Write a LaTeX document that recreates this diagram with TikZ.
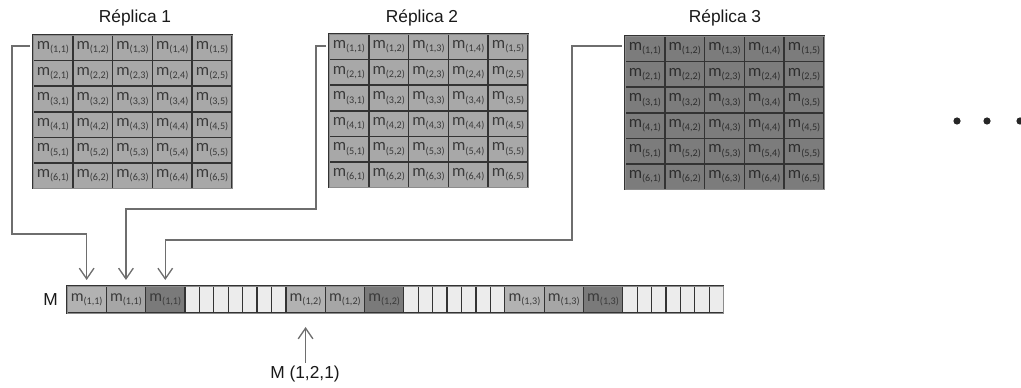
\documentclass[tikz,border=0pt]{standalone}
\usepackage{fontspec}
\setmainfont{Liberation Sans}
\newfontfamily\cellfont{Carlito}
\usetikzlibrary{arrows.meta,calc}
\definecolor{gridfill}{HTML}{A8A8A8}
\definecolor{gridfillD}{HTML}{7C7C7C}
\definecolor{cellline}{HTML}{333333}
\definecolor{celltext}{HTML}{3A3A3A}
\definecolor{rimc}{HTML}{8C8C8C}
\definecolor{arrA}{HTML}{B2B2B2}
\definecolor{arrB}{HTML}{A6A6A6}
\definecolor{arrC}{HTML}{7A7A7A}
\definecolor{arrE}{HTML}{ECECEC}
\definecolor{connc}{HTML}{6E6E6E}
\newcommand{\mcell}[1]{{\fontsize{12.5}{12.5}\selectfont m}\raisebox{-2.5pt}{\fontsize{7.6}{7.6}\selectfont(#1)}}
\newcommand{\mcellb}[1]{{\fontsize{12}{12}\selectfont m}\raisebox{-2.4pt}{\fontsize{7.6}{7.6}\selectfont(#1)}}
\tikzset{
  gcell/.style={draw=cellline, line width=1.1pt, fill=gridfill, minimum width=29.85pt, minimum height=19.2pt,
    inner sep=0pt, outer sep=0pt, anchor=north west, text=celltext, font=\cellfont},
  gcellD/.style={gcell, fill=gridfillD, text=celltext!80!black},
  arrcell/.style={draw=cellline, line width=0.9pt, minimum width=29.5pt, minimum height=20.25pt,
    inner sep=0pt, outer sep=0pt, anchor=north west, text=celltext, font=\cellfont},
  mA/.style={arrcell, fill=arrA},
  mB/.style={arrcell, fill=arrB},
  mC/.style={arrcell, fill=arrC},
  mE/.style={arrcell, fill=arrE, minimum width=10.82pt},
  rim/.style={draw=rimc, line width=0.6pt},
  title/.style={font=\fontsize{13}{13}\selectfont, text=black!90, inner sep=0pt},
  conn/.style={draw=connc, line width=1pt, -{Straight Barb[length=8pt,width=11pt]}},
  dotn/.style={circle, fill=black!85, inner sep=0pt, minimum size=5.4pt},
}
\begin{document}
\begin{tikzpicture}[x=0.75pt,y=-0.75pt]
\clip (0,0) rectangle (1021,388);
% titles
\node[title] (t1) at (135,18) {Réplica 1};
\node[title] (t2) at (422,18) {Réplica 2};
\node[title] (t3) at (725,18) {Réplica 3};
% grids
\foreach \g/\lx/\ty/\st in {1/33/35/gcell,2/329/34/gcell,3/625/36/gcellD} {
  \foreach \r in {1,...,6} {
    \foreach \c in {1,...,5} {
      \node[\st] (g\g-\r-\c) at ({\lx+(\c-1)*39.8},{\ty+(\r-1)*25.6}) {\mcell{\r,\c}};
    }
  }
  \draw[rim] (g\g-1-1.north west) rectangle (g\g-6-5.south east);
}
% array M
\foreach \k in {1,2,3} {
  \pgfmathsetmacro\bx{67+(\k-1)*218.9}
  \node[mA] (b\k-1) at ({\bx},286) {\mcellb{1,\k}};
  \node[mB] (b\k-2) at ({\bx+39.3},286) {\mcellb{1,\k}};
  \node[mC] (b\k-3) at ({\bx+78.6},286) {\mcellb{1,\k}};
  \foreach \i in {1,...,7} {
    \node[mE] (e\k-\i) at ({\bx+117.9+(\i-1)*14.43},286) {};
  }
}
\draw[rim] (b1-1.north west) rectangle (e3-7.south east);
\node[title, anchor=east] (Mlab) at (58,300) {M};
% connectors
\coordinate (s1) at (30,46);
\coordinate (k1) at (12,234);
\coordinate (s2) at (326,46);
\coordinate (k2) at (316,209);
\coordinate (s3) at (622,46);
\coordinate (k3) at (572,240);
\draw[conn] (s1) -| (k1) -| ([yshift=4.5pt]b1-1.north);
\draw[conn] (s2) -| (k2) -| ([yshift=4.5pt]b1-2.north);
\draw[conn] (s3) -| (k3) -| ([yshift=4.5pt]b1-3.north);
% index label
\node[title] (idx) at (305,374) {M (1,2,1)};
\draw[conn] (b2-1.south |- idx.north) ++(0,-3) -- ([yshift=-10.5pt]b2-1.south);
% dots
\node[dotn] (d1) at (957,121) {};
\node[dotn] (d2) at (987,121) {};
\node[dotn] (d3) at (1020,121) {};
\end{tikzpicture}
\end{document}
